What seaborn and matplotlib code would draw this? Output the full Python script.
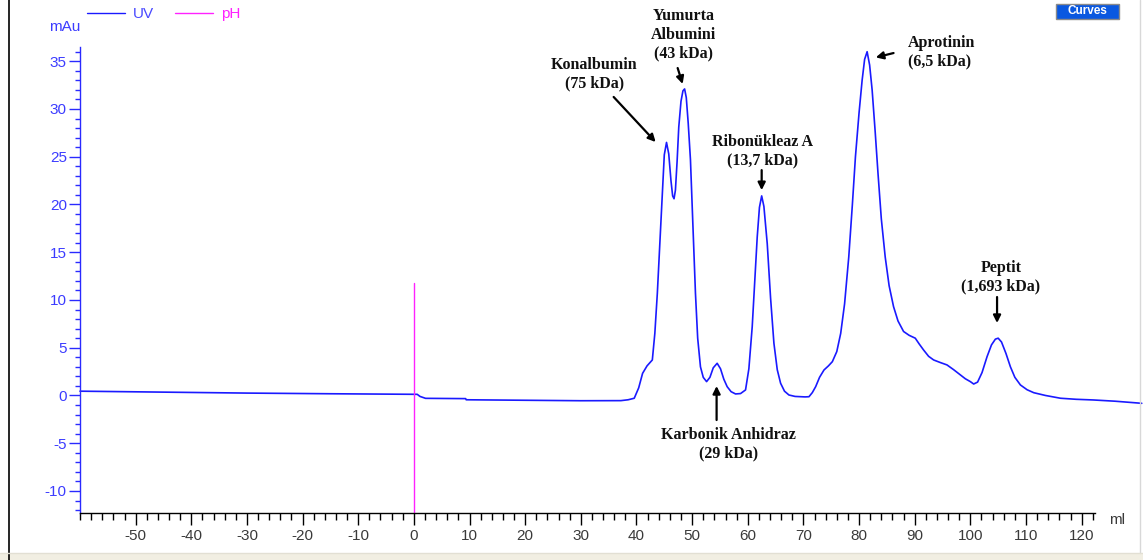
import matplotlib
matplotlib.use("Agg")
import matplotlib.pyplot as plt
import seaborn as sns
import pandas as pd
from matplotlib.lines import Line2D
from matplotlib.patches import Rectangle
from matplotlib.ticker import MultipleLocator, FixedLocator

sns.set_style("white")
plt.rcParams["font.family"] = ["Liberation Sans", "DejaVu Sans"]

# UV trace of the gel-filtration run (elution volume in ml, absorbance in mAu)
elution_ml = [
    -60.0, -45.0, -30.0, -15.0, -1.0, 0.6, 1.1, 2.1, 9.3, 9.4, 20.0, 30.0,
    37.2, 38.5, 39.6, 40.4, 41.1, 41.9, 42.85, 43.3, 43.75, 44.2, 44.65, 45.0,
    45.4, 45.8, 46.2, 46.5, 46.75, 47.0, 47.3, 47.6, 48.0, 48.35, 48.65, 48.95,
    49.3, 49.7, 50.1, 50.6, 51.0, 51.5, 52.0, 52.6, 53.2, 53.8, 54.5, 55.1,
    55.7, 56.3, 57.0, 57.8, 58.7, 59.6, 60.2, 60.8, 61.3, 61.7, 62.1, 62.5,
    62.9, 63.5, 64.1, 64.7, 65.3, 65.9, 66.6, 67.4, 68.5, 69.5, 70.3, 71.0,
    71.6, 72.2, 72.9, 73.7, 74.5, 75.2, 76.0, 76.7, 77.4, 78.15, 78.8, 79.35,
    80.0, 80.55, 81.0, 81.45, 81.9, 82.35, 82.9, 83.4, 84.0, 84.7, 85.4, 86.2,
    87.0, 88.0, 89.0, 90.1, 90.8, 91.6, 92.5, 93.4, 94.6, 95.8, 97.0, 98.2,
    99.1, 100.0, 100.6, 101.3, 102.1, 103.0, 103.8, 104.5, 105.0, 105.6, 106.4,
    107.2, 108.0, 109.0, 110.2, 111.4, 113.5, 116.2, 119.0, 122.1, 126.0, 130.8,
]
uv_mau = [
    0.45, 0.35, 0.25, 0.18, 0.13, 0.12, -0.1, -0.3, -0.33, -0.45, -0.5, -0.55,
    -0.54, -0.45, -0.29, 0.8, 2.32, 3.1, 3.72, 6.5, 10.7, 16.0, 21.2, 25.2,
    26.5, 25.3, 22.5, 20.9, 20.6, 21.5, 24.5, 28.1, 30.8, 31.9, 32.1, 31.2,
    28.5, 24.7, 18.5, 10.7, 6.0, 3.0, 1.9, 1.45, 1.9, 2.9, 3.37, 2.8,
    1.7, 0.92, 0.4, 0.16, 0.2, 0.58, 2.8, 7.2, 12.5, 16.6, 19.7, 20.9,
    19.8, 15.9, 10.2, 5.47, 2.7, 1.28, 0.45, 0.05, -0.1, -0.13, -0.15, -0.13,
    0.3, 0.92, 1.9, 2.67, 3.1, 3.54, 4.6, 6.5, 9.6, 14.5, 20.0, 25.0,
    29.6, 33.0, 35.2, 36.0, 34.6, 32.0, 27.6, 23.3, 18.5, 14.5, 11.5, 9.3,
    7.8, 6.7, 6.3, 6.0, 5.4, 4.76, 4.1, 3.72, 3.45, 3.2, 2.7, 2.15,
    1.75, 1.45, 1.2, 1.4, 2.4, 4.06, 5.3, 5.9, 6.0, 5.6, 4.4,
    3.0, 1.9, 1.1, 0.6, 0.29, 0.0, -0.29, -0.4, -0.47, -0.6, -0.82,
]

# injection mark drawn on the pH channel
injection_ml = 0.0
injection_top_mau = 11.8

x_tick_values = list(range(-50, 121, 10))
y_tick_values = list(range(-10, 36, 5))

# peak labels: text, text anchor, horizontal alignment, arrow tail, arrow head
peak_labels = [
    ("Konalbumin\n(75 kDa)", (32.45, 33.66), "center", (35.9, 31.26), (43.45, 26.54)),
    ("Yumurta\nAlbumini\n(43 kDa)", (48.5, 37.8), "center", (47.4, 34.29), (48.3, 32.62)),
    ("Ribonükleaz A\n(13,7 kDa)", (62.68, 25.55), "center", (62.5, 23.6), (62.5, 21.5)),
    ("Karbonik Anhidraz\n(29 kDa)", (56.57, -5.13), "center", (54.4, -2.57), (54.4, 0.99)),
    ("Aprotinin\n(6,5 kDa)", (88.74, 35.9), "left", (86.2, 35.86), (83.0, 35.4)),
    ("Peptit\n(1,693 kDa)", (105.5, 12.36), "center", (104.8, 10.31), (104.8, 7.59)),
]

UV_COLOR = "#1a1aff"
PH_COLOR = "#ff22ff"
TICK_BLUE = "#3c3cff"
TEXT_GRAY = "#3a3a3a"

fig = plt.figure(figsize=(11.43, 5.60), dpi=100)
fig.patch.set_facecolor("white")
ax = fig.add_axes([0.0700, 0.0832, 0.8880, 0.8330])
ax.set_facecolor("white")

trace = pd.DataFrame({"ml": elution_ml, "mAu": uv_mau})
sns.lineplot(data=trace, x="ml", y="mAu", ax=ax, color=UV_COLOR,
             linewidth=1.2, sort=False, estimator=None)
ax.lines[-1].set_clip_on(False)

ax.set_xlim(-60, 122.4)
ax.set_ylim(-12.35, 36.5)
ax.plot([injection_ml, injection_ml], [-12.35, injection_top_mau],
        color=PH_COLOR, linewidth=1.0)

ax.set_xlabel("")
ax.set_ylabel("")
for side in ("top", "right"):
    ax.spines[side].set_visible(False)
ax.spines["left"].set_color("#2a2aff")
ax.spines["bottom"].set_color("black")
ax.spines["left"].set_linewidth(1.0)
ax.spines["bottom"].set_linewidth(1.0)

ax.xaxis.set_major_locator(FixedLocator(x_tick_values))
ax.xaxis.set_minor_locator(MultipleLocator(2))
ax.yaxis.set_major_locator(FixedLocator(y_tick_values))
ax.yaxis.set_minor_locator(MultipleLocator(1))
ax.set_xticklabels([str(v) for v in x_tick_values])
ax.set_yticklabels([str(v) for v in y_tick_values])

ax.tick_params(axis="both", which="both", bottom=True, left=True, top=False, right=False)
ax.tick_params(axis="x", which="major", direction="out", length=8.5, width=1.0,
               color="black", labelsize=11, labelcolor=TEXT_GRAY, pad=3)
ax.tick_params(axis="x", which="minor", direction="out", length=5, width=1.0,
               color="black")
ax.tick_params(axis="y", which="major", direction="out", length=8, width=1.0,
               color="#2a2aff", labelsize=11, labelcolor=TICK_BLUE, pad=1.5)
ax.tick_params(axis="y", which="minor", direction="out", length=3.6, width=1.0,
               color="#2a2aff")
ax.grid(False)

for text, (tx, ty), ha, tail, head in peak_labels:
    ax.text(tx, ty, text, ha=ha, va="center", fontfamily="Liberation Serif",
            fontweight="bold", fontsize=11.5, color="#111111", linespacing=1.2)
    ax.annotate("", xy=head, xytext=tail,
                arrowprops=dict(arrowstyle="-|>", color="black", lw=1.6,
                                mutation_scale=11, shrinkA=0, shrinkB=0))

# axis units
fig.text(0.0700, 0.952, "mAu", ha="right", va="center", fontsize=11, color=TICK_BLUE)
fig.text(0.977, 0.0714, "ml", ha="center", va="center", fontsize=11, color=TEXT_GRAY)

# channel legend
fig.add_artist(Line2D([0.0761, 0.1094], [0.9768, 0.9768], color=UV_COLOR, lw=1.0))
fig.text(0.1164, 0.975, "UV", ha="left", va="center", fontsize=11, color="#4a4aff")
fig.add_artist(Line2D([0.1531, 0.1864], [0.9768, 0.9768], color=PH_COLOR, lw=1.0))
fig.text(0.1934, 0.975, "pH", ha="left", va="center", fontsize=11, color=PH_COLOR)

# "Curves" button
fig.add_artist(Rectangle((0.9239, 0.9661), 0.0551, 0.0268, transform=fig.transFigure,
                         facecolor="#0a58e0", edgecolor="#8a8a8a", lw=1.0))
fig.text(0.9515, 0.9795, "Curves", ha="center", va="center", fontsize=8.5,
         fontweight="bold", color="white")

# window frame
fig.add_artist(Line2D([0.0079, 0.0079], [0.0, 1.0], color="black", lw=1.2))
fig.add_artist(Line2D([0.9975, 0.9975], [0.0125, 1.0], color="#d8d8d8", lw=1.0))
fig.add_artist(Rectangle((0.0, 0.0), 1.0, 0.0125, transform=fig.transFigure,
                         facecolor="#f1eee2", edgecolor="none"))
fig.add_artist(Line2D([0.0, 1.0], [0.0125, 0.0125], color="#e2dfd3", lw=1.0))

fig.savefig("out.png", dpi=100, facecolor="white")
